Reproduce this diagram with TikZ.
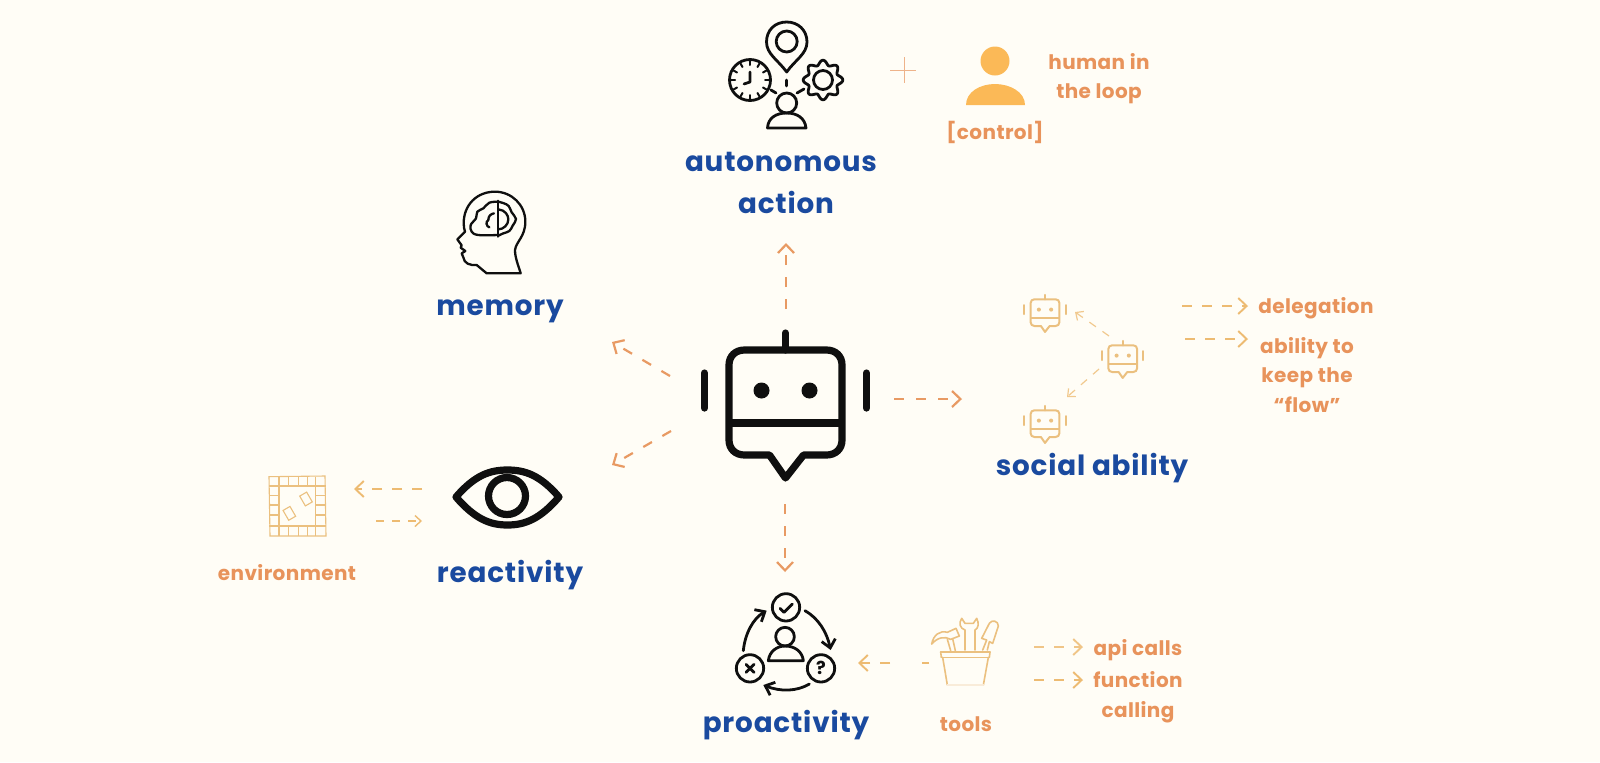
\documentclass[tikz,border=0pt]{standalone}
\usepackage{fontspec}
\setmainfont{Poppins}
\newfontfamily\headf[LetterSpace=3]{Poppins}
\newfontfamily\subf[LetterSpace=2]{Poppins}
\usetikzlibrary{arrows.meta}
\definecolor{bgc}{HTML}{FFFDF6}
\definecolor{bluet}{HTML}{1A4A9F}
\definecolor{oranget}{HTML}{E8935B}
\definecolor{flowc}{HTML}{E89A63}
\definecolor{flowy}{HTML}{EDBB72}
\definecolor{iconb}{HTML}{0F0F0F}
\definecolor{icony}{HTML}{EBC07F}
\definecolor{humanc}{HTML}{FBB957}
\tikzset{
  x=.5pt,y=-.5pt,
  headline/.style={font=\headf\fontsize{13.9}{20}\selectfont\bfseries,text=bluet,align=center,inner sep=0pt},
  subline/.style={font=\subf\fontsize{10}{14.8}\selectfont\bfseries,text=oranget,align=center,inner sep=0pt},
  flow/.style={draw=flowc,line width=1.1pt,dash pattern=on 5pt off 6pt,-{Straight Barb[length=4.2pt,width=8pt]}},
  flowlight/.style={draw=flowy,line width=.95pt,dash pattern=on 5pt off 5pt,-{Straight Barb[length=4.2pt,width=8pt]}},
  flowthin/.style={draw=flowy!80,line width=.6pt,dash pattern=on 4pt off 4pt,-{Straight Barb[length=3pt,width=5.5pt]}},
  iconline/.style={draw=iconb,line width=1.4pt,line cap=round,line join=round},
  pics/botpic/.style={code={
    \draw[line cap=round,line join=round]
      (-56.5,-35) .. controls (-56.5,-44) and (-50,-50) .. (-41,-50) -- (41,-50)
      .. controls (50,-50) and (56.5,-44) .. (56.5,-35) -- (56.5,40)
      .. controls (56.5,49) and (50,55) .. (41,55) -- (18,55) -- (0,78) -- (-16,55) -- (-41,55)
      .. controls (-50,55) and (-56.5,49) .. (-56.5,40) -- cycle;
    \draw (-56.5,23) -- (56.5,23);
    \draw[line cap=round] (0,-67) -- (0,-50);
    \draw[line cap=round] (-81,-27) -- (-81,8);
    \draw[line cap=round] (81,-27) -- (81,8);
    \fill (-24,-9.5) circle[radius=8];
    \fill (24,-9.5) circle[radius=8];
  }}
}
\begin{document}
\begin{tikzpicture}
\fill[bgc] (0,0) rectangle (1600,762);
\useasboundingbox (0,0) rectangle (1600,762);

% central robot
\pic (mainbot) [color=iconb,line width=3.6pt] at (785.5,400) {botpic};

% arrow ends
\coordinate (up1) at (786,309);   \coordinate (up2) at (786,243);
\coordinate (dn1) at (785,504);   \coordinate (dn2) at (785,572);
\coordinate (rt1) at (894,399);   \coordinate (rt2) at (962,399);
\coordinate (ul1) at (670,376);   \coordinate (ul2) at (612,342);
\coordinate (ll1) at (671,431);   \coordinate (ll2) at (612,465);
\draw[flow] (up1) -- (up2);
\draw[flow] (dn1) -- (dn2);
\draw[flow] (rt1) -- (rt2);
\draw[flow] (ul1) -- (ul2);
\draw[flow] (ll1) -- (ll2);

% autonomous icon
\begin{scope}[iconline]
  \draw (786.7,72) .. controls (778,60) and (766.5,54) .. (766.5,42)
    .. controls (766.5,30) and (775,22) .. (786.7,22)
    .. controls (798,22) and (807,30) .. (807,42)
    .. controls (807,54) and (795,60) .. (786.7,72) -- cycle;
  \draw (786.7,41.5) circle[radius=10.5];
  \draw (750,80) circle[radius=20.5];
  \foreach \a in {0,30,...,330}{\draw[line width=1pt] ({750+15*cos(\a)},{80+15*sin(\a)}) -- ({750+19*cos(\a)},{80+19*sin(\a)});}
  \draw (750,72) -- (750,82) -- (744,84);
  \draw plot[domain=0:360,samples=145,smooth] ({823+(17.5+2.3*cos(8*\x))*cos(\x)},{80+(17.5+2.3*cos(8*\x))*sin(\x)}) -- cycle;
  \draw (823,80) circle[radius=9.5];
  \draw (786.7,103) circle[radius=10];
  \draw (767.5,128) .. controls (768,118) and (776,113) .. (786.7,113) .. controls (797,113) and (805,118) .. (806,128) -- cycle;
  \draw (786.7,80) -- (786.7,86);
  \draw (771,90) -- (776,93);
  \draw (797,93) -- (804,89);
\end{scope}

% plus and human
\draw[draw=flowc!75,line width=.45pt] (890,70) -- (916,70);
\draw[draw=flowc!75,line width=.45pt] (904,57) -- (904,83);
\fill[humanc] (995,61) circle[radius=14.5];
\fill[humanc] (966,105) .. controls (966,92) and (980,84) .. (995,84) .. controls (1010,84) and (1025,92) .. (1025,105) -- cycle;
\node[subline] (human) at (1099,78.5) {human in\\the loop};
\node[subline] (control) at (995,132) {[control]};
\node[headline] (autonomous) at (781,162) {autonomous};
\node[headline] (action) at (786,202) {action};

% memory icon
\begin{scope}[shift={(420,170)},x=.16667pt,y=-.16667pt,iconline,line width=1.15pt]
  \draw (200,310) -- (302,310)
    .. controls (295,285) and (285,265) .. (285,240)
    .. controls (288,215) and (316,200) .. (316,155)
    .. controls (316,105) and (275,65) .. (225,65)
    .. controls (170,65) and (131,105) .. (131,160)
    .. controls (131,170) and (133,178) .. (135,185)
    -- (112,208) -- (125,226) -- (122,233) -- (136,243) -- (125,250) -- (130,262)
    .. controls (132,280) and (150,287) .. (170,285) -- cycle;
  \draw (235,92) -- (235,200);
  \draw plot[smooth,tension=.6] coordinates {(235,95) (208,98) (190,115) (172,125) (168,145) (152,165) (155,185) (175,195) (235,195)};
  \draw (235,118) .. controls (255,120) and (265,135) .. (265,148) .. controls (265,165) and (250,178) .. (235,178);
  \draw plot[smooth,tension=.6] coordinates {(235,95) (252,100) (266,108) (275,127) (288,147) (278,167) (268,183) (250,190) (235,197)};
  \draw (205,150) .. controls (195,155) and (200,170) .. (208,172);
  \draw (222,130) .. controls (212,132) and (205,138) .. (205,150);
\end{scope}
\node[headline] (memory) at (500,311) {memory};

% social robots
\pic (botA) [color=icony,scale=.255,line width=1pt] at (1045,312) {botpic};
\pic (botB) [color=icony,scale=.255,line width=1pt] at (1122.7,358) {botpic};
\pic (botC) [color=icony,scale=.255,line width=1pt] at (1045,423) {botpic};
\coordinate (ba1) at (1109,336); \coordinate (ba2) at (1075,312);
\coordinate (bc1) at (1099,369); \coordinate (bc2) at (1067,397);
\draw[flowthin] (ba1) -- (ba2);
\draw[flowthin] (bc1) -- (bc2);
\node[subline] (delegation) at (1316,308) {delegation};
\node[subline] (ability) at (1307,375) {ability to\\keep the\\“flow”};
\coordinate (d1) at (1182,306); \coordinate (d2) at (1248,306);
\coordinate (f1) at (1185,339); \coordinate (f2) at (1248,339);
\draw[flowlight] (d1) -- (d2);
\draw[flowlight] (f1) -- (f2);
\node[headline] (social) at (1092,468) {social ability};

% eye
\begin{scope}[iconb,line width=3.6pt,line join=round]
  \draw (456,497) .. controls (475,475) and (490,470) .. (507.5,470)
    .. controls (525,470) and (540,475) .. (559,497)
    .. controls (540,519) and (525,525) .. (507.5,525)
    .. controls (490,525) and (475,519) .. (456,497) -- cycle;
  \draw (507,496) circle[radius=18.5];
\end{scope}
\node[headline] (reactivity) at (510,575) {reactivity};
\node[subline] (environment) at (287,573) {environment};

% board
\begin{scope}[shift={(200,450)},x=.16667pt,y=-.16667pt,draw=icony,line width=.55pt]
  \draw (207,80) -- (375,78) -- (378,258) -- (210,258) -- cycle;
  \draw (237,108) -- (347,108) -- (347,228) -- (237,228) -- cycle;
  \foreach \v in {237,265,295,322,347}{\draw (\v,80) -- (\v,108); \draw (\v,228) -- (\v,258);}
  \foreach \h in {108,137,165,195,228}{\draw (207,\h) -- (237,\h); \draw (347,\h) -- (378,\h);}
  \draw[rotate around={30:(318,147)}] (306,130) rectangle (330,164);
  \draw[rotate around={30:(268,190)}] (256,173) rectangle (280,207);
\end{scope}
\coordinate (e1) at (422,489); \coordinate (e2) at (354,489);
\coordinate (g1) at (376,521); \coordinate (g2) at (422,521);
\draw[flowlight] (e1) -- (e2);
\draw[flowthin,draw=flowy,line width=.7pt] (g1) -- (g2);

% proactivity icon
\begin{scope}[shift={(700,580)},x=.16667pt,y=-.16667pt,iconline]
  \draw (258,82) circle[radius=41];
  \draw (150,265) circle[radius=41];
  \draw (363,265) circle[radius=41];
  \draw (240,85) -- (252,97) -- (277,72);
  \draw (138,253) -- (162,277);
  \draw (162,253) -- (138,277);
  \draw (255,170) circle[radius=28];
  \draw (205,242) .. controls (208,215) and (230,198) .. (255,198) .. controls (285,198) and (307,215) .. (310,242) -- cycle;
  \draw[-{Straight Barb[length=4pt,width=7pt]}] (130,212) .. controls (135,160) and (160,115) .. (200,92);
  \draw[-{Straight Barb[length=4pt,width=7pt]}] (315,92) .. controls (355,115) and (380,155) .. (392,210);
  \draw[-{Straight Barb[length=4pt,width=7pt]}] (328,312) .. controls (290,335) and (240,335) .. (190,315);
  \node[font=\fontsize{9}{10}\selectfont\bfseries,text=iconb,inner sep=0pt] (qmark) at (363,265) {?};
\end{scope}
\node[headline] (proactivity) at (786,725) {proactivity};
\node[subline] (tools) at (966,724) {tools};
\node[subline] (api) at (1138,650) {api calls};
\node[subline] (function) at (1138,697) {function\\calling};

% tools icon
\begin{scope}[shift={(700,580)},x=.16667pt,y=-.16667pt,draw=icony,line width=.8pt,line join=round,line cap=round]
  \draw (722,216) -- (870,216);
  \draw (724,232) -- (868,232);
  \draw (722,216) -- (724,232);
  \draw (870,216) -- (868,232);
  \draw (728,232) -- (742,315);
  \draw (865,232) -- (850,315);
  \draw[draw=icony!30] (742,315) -- (850,315);
  % hammer
  \draw (695,192) .. controls (700,165) and (720,150) .. (742,157) -- (768,145) -- (778,168) -- (752,178) .. controls (735,168) and (712,172) .. (695,192);
  \draw (742,178) -- (752,212);
  \draw (758,176) -- (766,212);
  % wrench
  \draw (795,210) -- (795,150) .. controls (780,145) and (775,130) .. (785,115) -- (795,130) -- (820,130) -- (830,115) .. controls (838,130) and (835,145) .. (825,150) -- (825,210);
  % screwdriver
  \draw (848,210) -- (860,180) -- (845,175) -- (868,130) .. controls (875,118) and (895,122) .. (895,138) -- (878,190) -- (868,185) -- (862,210);
\end{scope}
\coordinate (t1) at (890,663); \coordinate (t2) at (858,663);
\coordinate (t3) at (929,663); \coordinate (t4) at (922,663);
\draw[flowlight] (t1) -- (t2);
\draw[draw=flowy,line width=.85pt] (t3) -- (t4);
\coordinate (a1) at (1034,647); \coordinate (a2) at (1083,647);
\coordinate (b1) at (1034,680); \coordinate (b2) at (1083,680);
\draw[flowlight,draw=flowy!85] (a1) -- (a2);
\draw[flowlight] (b1) -- (b2);
\end{tikzpicture}
\end{document}
